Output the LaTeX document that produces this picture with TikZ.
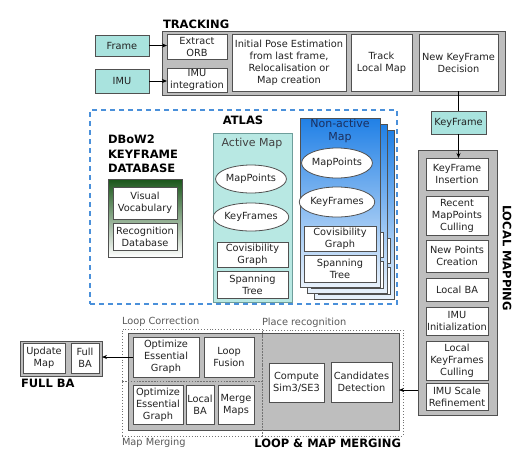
\documentclass[tikz,border=0pt]{standalone}
\usepackage{fontspec}
\setmainfont{DejaVu Sans}
\usetikzlibrary{arrows.meta,shapes.geometric,calc}
\definecolor{cyanbox}{HTML}{A9E3DE}
\definecolor{activefill}{HTML}{B8E8E3}
\definecolor{activeedge}{HTML}{6E9E9B}
\definecolor{graybox}{HTML}{BEBEBE}
\definecolor{edgegray}{HTML}{505050}
\definecolor{atlasblue}{HTML}{4A90DA}
\definecolor{dbgreen}{HTML}{1A561A}
\definecolor{natop}{HTML}{2080E6}
\definecolor{nabot}{HTML}{E8F1FB}
\definecolor{navy}{HTML}{1B2F5E}
\definecolor{txt}{HTML}{222222}
\newcommand\fsn{\fontsize{9.8}{12}\selectfont}
\newcommand\fsl{\fontsize{11}{13}\selectfont}
\newcommand\fsb{\fontsize{11.5}{14.5}\selectfont\bfseries}
\newcommand\bx[7][]{\node[#1, minimum width={(#5-#3)*1pt}, minimum height={(#6-#4)*1pt}] (#2) at ({(#3+#5)/2},{(#4+#6)/2}) {#7};}
\tikzset{
  every node/.style={inner sep=0pt, outer sep=0pt, text=txt},
  wbox/.style={draw=edgegray, fill=white, line width=0.8pt, align=center, font=\fsn},
  cbox/.style={draw=edgegray, fill=cyanbox, line width=0.8pt, align=center, font=\fsn},
  gbox/.style={draw=edgegray, fill=graybox, line width=1pt},
  ell/.style={draw=edgegray, fill=white, line width=0.8pt, ellipse, font=\fsn},
  hdr/.style={font=\fsb, text=black},
  sublbl/.style={font=\fsn, text=black!65},
  dotbox/.style={draw=black!55, dotted, line width=0.9pt},
  arr/.style={-{Stealth[length=5pt,width=4pt]}, line width=0.8pt, draw=black},
  conn/.style={line width=0.8pt, draw=black},
  nasheet/.style={draw=edgegray, line width=0.8pt, top color=natop, bottom color=nabot}
}
\begin{document}
\begin{tikzpicture}[x=1pt,y=-1pt]
\useasboundingbox[fill=white] (0,0) rectangle (531,456);

% ---------------- TRACKING ----------------
\node[hdr, anchor=west] (trklbl) at (163,24) {TRACKING};
\bx[gbox]{trk}{162}{31}{505}{95}{}
\bx[cbox]{frame}{95}{35}{149}{56}{Frame}
\bx[cbox]{imu}{95}{69}{149}{93}{IMU}
\bx[wbox]{orb}{167}{34}{227}{59}{Extract\\ORB}
\bx[wbox]{imuint}{167}{68}{227}{92}{IMU\\integration}
\bx[wbox]{init}{232}{34}{346}{91}{Initial Pose Estimation\\from last frame,\\Relocalisation or\\Map creation}
\bx[wbox]{tlm}{351}{34}{412}{91}{Track\\Local Map}
\bx[wbox]{nkd}{419}{34}{498}{91}{New KeyFrame\\Decision}
\draw[arr] (frame.east) -- (orb.west |- frame.east);
\draw[arr] (imu.east) -- (imuint.west |- imu.east);

% ---------------- KEYFRAME + LOCAL MAPPING ----------------
\bx[cbox]{kf}{431}{111}{486}{134}{KeyFrame}
\draw[conn] (nkd.south) -- (kf.north);
\bx[gbox]{lm}{418}{150}{497}{415}{}
\bx[wbox]{kfi}{426}{158}{488}{190}{KeyFrame\\Insertion}
\bx[wbox]{rmc}{426}{196}{488}{235}{Recent\\MapPoints\\Culling}
\bx[wbox]{npc}{426}{240}{488}{272}{New Points\\Creation}
\bx[wbox]{lba}{426}{278}{488}{301}{Local BA}
\bx[wbox]{imui}{426}{307}{488}{335}{IMU\\Initialization}
\bx[wbox]{lkc}{426}{341}{488}{380}{Local\\KeyFrames\\Culling}
\bx[wbox]{isr}{426}{383}{488}{410}{IMU Scale\\Refinement}
\node[hdr, rotate=-90] (lmlbl) at (507,258) {LOCAL MAPPING};
\draw[arr] (kf.south) -- (kf.south |- kfi.north);

% ---------------- ATLAS ----------------
\bx[draw=atlasblue, dashed, dash pattern=on 5pt off 4pt, line width=1.6pt]{atlas}{90}{110}{397}{304}{}
\node[hdr] (atlaslbl) at (243,120) {ATLAS};
\node[hdr, anchor=north west, align=left] (dblbl) at (108,135) {DBoW2\\KEYFRAME\\DATABASE};
\bx[draw=edgegray, line width=0.8pt, top color=dbgreen, bottom color=white]{db}{108}{179}{182}{257}{}
\bx[wbox]{vv}{113}{187}{177}{219}{Visual\\Vocabulary}
\bx[wbox]{rd}{113}{223}{177}{250}{Recognition\\Database}

% Active map
\bx[draw=activeedge, fill=activefill, line width=1pt]{am}{213}{133}{292}{302}{}
\node[font=\fsl, text=black!75] (amlbl) at (252,143) {Active Map};
\node[ell, minimum width=67pt, minimum height=28pt] (mp1) at (251,179) {MapPoints};
\node[ell, minimum width=67pt, minimum height=28pt] (kf1) at (251,217) {KeyFrames};
\bx[wbox]{cg1}{217}{242}{288}{267}{Covisibility\\Graph}
\bx[wbox]{st1}{217}{271}{288}{298}{Spanning\\Tree}

% Non-active maps (stack)
\bx[nasheet]{na3}{314}{130}{394}{299}{}
\bx[wbox]{cg3}{318}{238}{390}{263}{}
\bx[wbox]{st3}{318}{267}{390}{294}{}
\bx[nasheet]{na2}{307}{124}{387}{293}{}
\bx[wbox]{cg2b}{311}{232}{383}{257}{}
\bx[wbox]{st2b}{311}{261}{383}{288}{}
\bx[nasheet]{na1}{300}{118}{380}{287}{}
\node[font=\fsl, text=navy, align=center] (nalbl) at (340,131) {Non-active\\Map};
\node[ell, minimum width=68pt, minimum height=30pt] (mp2) at (337,163) {MapPoints};
\node[ell, minimum width=68pt, minimum height=30pt] (kf2) at (337,202) {KeyFrames};
\bx[wbox]{cg2}{304}{226}{376}{251}{Covisibility\\Graph}
\bx[wbox]{st2}{304}{255}{376}{282}{Spanning\\Tree}

% ---------------- LOOP & MAP MERGING ----------------
\bx[gbox]{loopg}{128}{333}{399}{430}{}
\bx[dotbox]{lc}{122}{329}{262}{381}{}
\bx[dotbox]{mmg}{122}{381}{262}{436}{}
\bx[dotbox]{pr}{262}{330}{403}{436}{}
\node[sublbl, anchor=west] (lclbl) at (122,322) {Loop Correction};
\node[sublbl, anchor=west] (prlbl) at (262,323) {Place recognition};
\node[sublbl, anchor=west] (mmlbl) at (122,443) {Map Merging};
\node[hdr, anchor=east] (lmmlbl) at (401,443) {LOOP \& MAP MERGING};
\bx[wbox]{oeg1}{133}{337}{199}{377}{Optimize\\Essential\\Graph}
\bx[wbox]{lf}{204}{337}{254}{377}{Loop\\Fusion}
\bx[wbox]{oeg2}{133}{385}{183}{424}{Optimize\\Essential\\Graph}
\bx[wbox]{lba2}{186}{385}{214}{424}{Local\\BA}
\bx[wbox]{mrg}{218}{385}{254}{424}{Merge\\Maps}
\bx[wbox]{cs}{269}{363}{324}{402}{Compute\\Sim3/SE3}
\bx[wbox]{cd}{331}{362}{392}{402}{Candidates\\Detection}

% ---------------- FULL BA ----------------
\bx[gbox]{fba}{20}{341}{102}{376}{}
\bx[wbox]{um}{23}{343}{65}{373}{Update\\Map}
\bx[wbox]{fb}{71}{343}{99}{373}{Full\\BA}
\node[hdr, anchor=west] (fbalbl) at (21,383) {FULL BA};

% connectors
\coordinate (lmy) at (0,390);
\draw[arr] (lm.west |- lmy) -- (loopg.east |- lmy);
\draw[arr] (oeg1.west) -- (fba.east |- oeg1.west);
\end{tikzpicture}
\end{document}
